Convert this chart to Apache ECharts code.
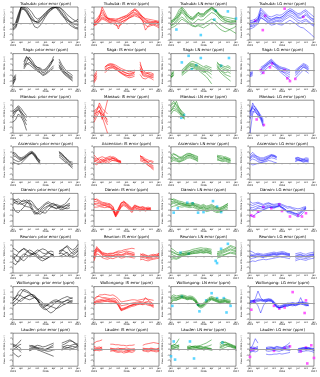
<!DOCTYPE html>
<html><head><meta charset="utf-8">
<script src="https://cdn.jsdelivr.net/npm/echarts@6/dist/echarts.min.js"></script>
<style>html,body{margin:0;padding:0;background:#fff;overflow:hidden}#c{width:320px;height:377px}</style>
</head><body><div id="c"></div>
<script>
const months = [0,1,2,3,4,5,6,7,8,9,10,11,12,13,14,15,16,17,18,19,20,21,22,23,24];
const tickValues = [0,3,6,9,12,15,18,21,24];
const tickLabels = ['jan\n2015','apr','jul','oct','jan\n2016','apr','jul','oct','jan\n2017'];
const sites = ['Tsukuba','Saga','Manaus','Ascension','Darwin','Reunion','Wollongong','Lauder'];
const kinds = ['prior','IS','LN','LG'];
const _ = null;

// ---- Tsukuba ----
const tsukubaPrior = [
[-0.8,-0.3,1.2,3,2.6,2,1.2,0.6,0.3,0.4,0.8,1.3,1.8,2.3,2.8,3,2.8,2.2,1.5,1,0.6,0.3,0.2,0.4,0.8],
[-1,-0.6,0.8,2.8,2.8,2.4,1.5,0.8,0.4,0.2,0.5,1,1.6,2.2,2.7,2.9,3,2.6,2,1.3,0.7,0.2,-0.3,-0.7,-0.8],
[-0.5,0,1.5,3,3,2.7,2,1.2,0.5,0.1,0.3,0.9,1.5,2,2.5,2.8,3,2.9,2.5,1.8,1,0.4,0,-0.2,-0.3],
[-1.2,-0.8,0.5,2.5,2.6,2.2,1.4,0.3,-0.6,-0.8,-0.4,0.4,1.2,1.9,2.4,2.8,3,2.5,1.8,1,0.2,-0.3,-0.6,-0.9,-1],
[-0.3,0.2,1.8,3,3,3,2.6,2,1.2,0.8,1,1.5,2,2.5,2.8,3,3,3,2.7,2.2,1.6,1.2,0.8,0.5,0.3]];
const tsukubaIS = [
[0,0.3,1,2.5,1.5,0.8,0.6,0.5,0.4,0.3,0.6,1,1.2,1.4,1.8,2.5,2,1.5,0.8,0.3,0.2,0.1,0,-0.3,-0.5],
[-0.5,0,0.5,1,0.8,0.6,0.4,0.3,0.2,-1,0.2,0.5,0.8,1.2,1.5,1.8,1.6,1.2,0.5,-1.2,-0.5,0,0.2,0.3,0],
[0.3,0.5,1.2,3,2,1,0.8,0.7,0.5,0.5,0.7,0.9,1.1,1.6,2.2,2.7,2.4,1.8,1.2,0.7,0.5,0.4,0.3,0.2,0.1],
[-0.3,-0.2,0.3,0.8,0.6,0.3,0.1,0,0,0.1,0.3,0.5,0.7,1,1.2,1.4,1.2,1,0.6,0.2,0,-0.2,-0.3,-0.5,-0.8],
[0.1,0.4,0.9,1.6,1.2,0.9,0.7,0.6,0.6,0.8,1,1.2,1.5,1.9,2.3,2.5,2.2,1.7,1.1,0.6,0.3,0.2,0.3,0.4,0.2],
[-0.2,0.1,0.6,1.2,1,0.5,0.2,0,-0.3,-0.5,-0.2,0.2,0.6,1,1.3,1.6,1.5,1,0.4,-0.3,-0.6,-0.4,-0.2,0,-0.3],
[0.5,0.8,1.5,2,1.4,1,0.9,0.9,0.8,0.9,1.1,1.3,1.4,1.6,1.9,2,1.8,1.5,1.2,0.9,0.8,0.7,0.6,0.5,0.4]];
const tsukubaLN = [
[0,0.5,1.2,2,2.8,2,1.2,0.8,0.6,1,1.5,1.2,1.3,1.8,2.2,2.6,2.3,1.8,1.2,0.8,0.5,0.3,0.2,0.2,0.3],
[-0.5,0,0.5,1.2,2,1.5,0.8,0.3,0,0.3,0.8,0.6,0.7,1.2,1.6,2,1.8,1.4,0.8,0.4,0.2,0,-0.2,-0.1,0],
[0.3,0.8,1.5,2.5,3,2.5,1.8,1.3,1.1,1.5,2,1.8,1.8,2.3,2.6,3,2.7,2.2,1.6,1.3,1.2,1.1,1,0.9,0.8],
[-0.3,-0.2,0.2,0.8,1.2,0.8,0.4,0,-0.3,-0.5,-0.2,-0.3,-0.2,0.2,0.5,0.8,0.6,0.2,-0.2,-0.5,-0.8,-1,-1.2,-1.5,-1.8],
[0.5,0.7,1,1.6,2.2,1.8,1.4,1,0.8,1.2,1.8,1.5,1.6,2.2,2.5,2.8,2.5,2,1.5,1,0.6,0.4,0.3,0.4,0.5],
[-0.8,-0.6,-0.3,0.3,0.8,0.5,0.2,-0.2,-0.5,-0.6,-0.4,-0.6,-0.8,-0.5,-0.2,0.2,0,-0.5,-1,-1.3,-1.5,-1.3,-1,-0.8,-0.5],
[0.2,0.4,0.8,1.5,2.5,2.2,1.5,1,0.9,1.4,2,1.6,1.5,2,2.4,2.9,2.6,2,1.4,1.1,0.9,0.7,0.6,0.5,0.4]];
const tsukubaLG = [
[-0.5,-0.3,0,0.5,2.5,2,1.5,1,0.8,1,1.2,1,1.2,1.6,2,2.4,2.2,1.8,1.5,1.6,2,2.2,1.5,1,0.8],
[0,0.2,0.5,1,1.8,1.5,1,0.6,0.5,0.7,0.9,0.8,0.9,1.3,1.7,2,1.8,1.4,1,0.9,1.2,1.5,1,0.6,0.3],
[-1,-0.8,-0.5,0,1,0.8,0.5,0.2,0,0.2,0.4,0.3,0.3,0.7,1,1.3,1,0.6,0.2,0,0.3,0.5,0.2,-0.2,-0.5],
[0.5,0.6,0.8,1.3,2.8,2.3,1.8,1.3,1.2,1.4,1.6,1.5,1.6,2,2.4,2.7,2.5,2.1,1.8,1.9,2.3,2.5,2,1.6,1.2],
[-0.6,-0.5,-0.3,0.2,1.2,0.8,0.4,0,-0.3,-0.2,0,-0.2,-0.3,0,0.3,0.6,0.3,0,-0.4,-0.7,-0.8,-1.2,-1.6,-2,-2.5],
[0.2,0.3,0.4,0.8,2,1.8,1.3,0.9,0.7,0.9,1.1,1.1,1.2,1.6,2.1,2.3,2.1,1.7,1.2,1.1,1.4,1.8,1.3,0.9,0.6],
[-0.3,0,0.3,0.6,1.5,1.2,0.8,0.4,0.2,0.4,0.6,0.5,0.6,1,1.4,1.6,1.4,1,0.6,0.4,0.6,0.8,0.4,0,-0.3]];
const tsukubaLNObs = [[2,-1.1],[11,-2.1],[16,0.7],[16.5,2.3],[21,2.2],[24,0.9]];
const tsukubaLGObs = [[2,0.5],[5.7,1.4],[4.8,-1.2],[13,2.7],[20,1.2]];

// ---- Saga ----
const sagaPrior = [
[-2.4,-1.2,_,_,1,2.3,2,1.2,0.6,0.2,0,-0.5,-0.3,0.3,1,2,_,1.5,0.6,-0.2,-0.8,-1.2,-1.5],
[-1.8,-1,_,_,0.5,1.5,2.4,1.8,1,0.5,0.2,-0.2,0,0.5,1.2,2.5,_,1,0.2,-0.4,-0.6,-1,-1.3],
[-2,-1.5,_,_,0.2,1,1.4,1,0.5,0,-0.3,-0.8,-0.6,-0.2,0.3,0.8,_,0.8,0,-0.6,-1,-1.4,-1.8],
[-2.6,-1.6,_,_,1.5,2.5,1.8,1.4,0.8,0.5,0.4,0,0.2,0.8,1.5,1.8,_,2,1,0.3,-0.3,-0.6,-1],
[-1.5,-0.8,_,_,0.8,1.2,1,0.6,0.2,-0.2,-0.5,-1,-0.8,-0.4,0,0.4,_,0.5,-0.2,-0.8,-1.2,-1.6,-2]];
const sagaIS = [
[-1.5,-0.5,_,_,0.2,0.8,1,1,0.6,0.3,0,-0.3,-0.5,-0.8,-0.6,-0.4,_,1.5,-0.5,-0.8,-0.6,-0.8,-1],
[-2,-1,_,_,-0.2,0.4,0.6,0.8,0.4,0,-0.4,-0.7,-0.9,-1.1,-1,-0.8,_,0.5,-1,-1.2,-1,-1.2,-1.4],
[-1,-0.2,_,_,0.5,1,1.2,1.1,0.9,0.6,0.3,0.1,-0.1,-0.3,-0.2,0,_,-0.2,-0.3,-0.6,-0.4,-0.5,-0.7],
[-2.3,-1.5,_,_,0,0.3,0.5,0.5,0.2,-0.2,-0.6,-0.9,-1.2,-1.4,-1.3,-1.1,_,-0.8,-1.5,-1.6,-1.3,-1.5,-1.8],
[-1.2,-0.8,_,_,0.6,0.9,0.9,0.7,0.5,0.2,-0.1,-0.4,-0.6,-0.6,-0.5,-0.3,_,1,0,-0.4,-0.7,-1,-0.8],
[-1.8,-1.2,_,_,-0.5,0,0.3,0.4,0.1,-0.2,-0.5,-0.8,-1,-1,-0.8,-0.5,_,0.2,-0.8,-1,-1.1,-1.3,-1.2]];
const sagaLN = [
[-1,-0.3,_,_,-0.5,0,0.6,1,1.2,1,0.8,0.5,0.3,0.5,0.3,0,_,1.5,0.8,0.5,0.3,0.5,0.2],
[-1.5,-0.8,_,_,-0.8,-0.3,0.2,0.6,0.8,0.6,0.4,0.1,-0.2,-0.5,-1,-1.5,_,0.8,0.2,-0.2,-0.5,-0.3,-0.6],
[-0.8,-0.5,_,_,0,0.5,1,1.4,1.6,1.4,1.2,0.9,0.6,0.8,0.6,0.4,_,1.2,1,0.8,0.6,0.8,0.5],
[-1.2,-1,_,_,-1,-0.6,-0.2,0.2,0.3,0.2,0,-0.4,-0.8,-1.2,-1.8,-2.5,_,0.3,-0.3,-0.8,-1.2,-1.6,-2],
[-0.6,-0.2,_,_,-0.3,0.2,0.8,1.2,1,0.8,0.6,0.3,0.1,0.2,0,-0.3,_,1,0.5,0.2,0,0.1,-0.2],
[-1.3,-0.6,_,_,-0.6,-0.1,0.4,0.9,0.6,0.4,0.2,-0.1,-0.4,-0.2,-0.4,-0.8,_,0.6,0,-0.4,-0.8,-1,-1.2]];
const sagaLG = [
[-0.8,-0.5,_,_,0,0.5,1,1.5,1.8,1.2,0.8,0.4,0.2,0,-0.3,-0.5,_,-0.5,0,0.5,1,0.8,0.3],
[-1,-0.8,_,_,-0.5,0,0.6,1,1.3,1,0.6,0.2,-0.2,-0.6,-1,-1.3,_,-1,-0.6,0,0.5,0.3,-0.2],
[-0.5,-0.2,_,_,0.5,0.8,1.2,1.6,2,1.5,1,0.7,0.5,0.4,0.2,0,_,0,0.4,0.8,1.2,1,0.6],
[-1.2,-1,_,_,-0.8,-0.4,0.2,0.6,0.9,0.6,0.3,-0.2,-0.6,-1,-1.4,-1.8,_,-1.5,-1,-0.5,0,-0.2,-0.6],
[-0.9,-0.6,_,_,0.2,0.6,0.9,1.2,1.5,1.2,0.9,0.5,0.3,0.2,0,-0.2,_,-0.3,0.2,0.6,0.8,0.6,0.2],
[-0.6,-0.4,_,_,-0.2,0.3,0.8,1.3,1.6,1.1,0.5,0,-0.3,-0.4,-0.6,-0.9,_,-0.7,-0.3,0.2,0.6,0.4,0]];
const sagaLNObs = [[4,1.4],[6.5,2.6],[11,2.2],[21.4,2.2],[7.7,0.2],[9.3,0.9],[18.5,0.8]];
const sagaLGObs = [[4,0],[5,-0.5],[7.5,0.5],[8.3,1.2],[13,0],[14,-1.5],[15,-2],[17,-1.6]];

// ---- Manaus ----
const manausPrior = [[1,1.5,2,1.5,0.8,0.2],[0.5,1.2,1.8,1,0,-0.8],[0,0.8,1.5,0.5,-0.5,-1.5],[-1,-0.5,0.5,0,-1,-2.5],[0.8,1,1.2,0.8,0.3,-0.2]];
const manausIS = [[0,1,2.5,1.5,1,0.5],[1,1.5,2,0.5,-0.5,-1.5],[-0.5,0.5,1.2,-0.5,1,3],[0.5,0.8,1,0,-1.5,-3],[-1,0,0.8,0.5,0,-0.5],[0.8,1.2,1.8,1,0.2,-1]];
const manausLN = [[2,2.5,2,1.2,0.5,0],[1.5,2,1.6,1,0.2,-0.5],[1,1.8,2.8,1.5,0.8,0.2],[0.5,1.2,1,0.6,0,-0.3],[2.2,2.8,2.2,1.6,1,0.5],[1.2,1.5,1.3,0.8,0.4,-0.2]];
const manausLG = [[-3,0.5,1.5,1,0,-1],[0.5,2.5,1.5,0.8,-0.2,-1.5],[1,1.5,1.2,0.5,0,-0.8],[0,1.8,1,0.2,-0.5,-1.8],[0.8,2,1.8,1,0.3,-0.5],[-0.5,1,0.8,0.3,-0.3,-1.2]];
const manausLNObs = [[3.8,-0.2],[4.8,0.3]];
const manausLGObs = [[2.5,-0.5],[5.2,-1.5]];

// ---- Ascension ----
const ascensionPrior = [
[2,1.8,1.2,1,1.2,1.6,2,2.2,1.8,1,0.5,_,_,_,_,_,_,2,1.8,1.2,0.8,0.3,0.2],
[1.4,1.2,0.8,0.6,0.9,1.4,1.8,2,1.6,0.8,0.2,_,_,_,_,_,_,1.8,1.5,1,0.5,0,-0.3],
[0.8,0.5,0.3,0.5,0.8,1.2,1.6,1.8,1.2,0.5,0,_,_,_,_,_,_,1.5,1.2,0.6,0.2,-0.3,-0.6],
[0.2,0,-0.2,0,0.5,1,1.5,2,1.4,0.6,-0.2,_,_,_,_,_,_,1.2,0.8,0.3,0,-0.5,-0.9],
[1.8,1.5,1,0.8,1,1.3,1.7,1.9,1.5,0.9,0.4,_,_,_,_,_,_,2.2,1.6,1.2,0.6,0.2,-0.2]];
const ascensionIS = [
[1.5,1,0.5,0.8,0.5,0.3,0.6,1,0.8,0.4,0.2,_,_,_,_,_,_,1.5,1,0.5,0.2,0.5,0.3],
[0.5,0.2,0,0.3,0.6,0.8,0.7,0.5,0.4,0.3,0.2,_,_,_,_,_,_,1,0.8,0.2,-0.3,-0.8,-1.2],
[1,0.8,1,1.2,1,0.9,1,1.2,1,0.6,0.3,_,_,_,_,_,_,1.2,1.2,0.8,0.6,0.3,0],
[0,-0.3,0.2,0.5,0.2,0,0.3,0.6,0.5,0.2,-0.1,_,_,_,_,_,_,0.5,0.3,0,-0.4,-0.6,-1],
[0.8,0.5,0.3,0,0.4,0.6,0.8,0.9,0.7,0.5,0.4,_,_,_,_,_,_,0.8,0.5,0.6,0.2,-0.2,-0.5],
[0.3,0.6,0.8,0.5,0.8,1.1,1.3,0.9,0.6,0.4,0.1,_,_,_,_,_,_,1.3,0.9,0.4,0,-0.4,-0.8]];
const ascensionLN = [
[1.5,1.8,1.4,1,1.2,1.5,1.8,1.8,1.5,1.2,1,_,_,_,_,_,_,1.5,1.2,1,1.2,1,0.8],
[1,1.2,0.8,0.5,0.7,1,1.3,1.5,1.3,1,0.8,_,_,_,_,_,_,1.2,1,0.8,0.9,0.7,0.5],
[0.5,0.8,0.6,0.3,0.5,0.8,1.1,1.2,1,0.7,0.5,_,_,_,_,_,_,0.8,0.6,0.5,0.6,0.4,0.2],
[1.2,1.6,1.5,1.2,1,1.4,1.6,1.7,1.6,1.4,1.2,_,_,_,_,_,_,1.2,1.4,1.3,1,0.8,0.6],
[0.8,1,0.9,0.8,0.9,1.1,1.4,1.4,1.2,0.9,0.7,_,_,_,_,_,_,1,0.9,0.7,0.8,0.6,0.4],
[0.3,0.5,0.4,0.2,0.4,0.6,0.9,1,0.8,0.6,0.3,_,_,_,_,_,_,0.6,0.5,0.3,0.4,0.2,0]];
const ascensionLG = [
[1.5,2,1.5,1,0.8,0.8,1,1.2,1.5,1.5,1.2,_,_,_,_,_,_,0.8,1,0.8,0.6,0.8,0.7],
[0.8,1.2,1,0.6,0.5,0.6,0.8,1.1,1.4,1.3,1,_,_,_,_,_,_,0.6,0.8,0.6,0.5,0.6,0.5],
[0,-0.3,-0.2,0,0.1,0.2,0.3,0.5,0.4,0.2,0.1,_,_,_,_,_,_,0.3,0.5,0.4,0.2,0.3,0.2],
[1,1.4,1.2,0.8,0.6,0.5,0.7,1,1.3,1.2,1,_,_,_,_,_,_,1,1.1,0.9,0.8,1,0.9],
[0.5,0.8,0.6,0.3,0.2,0.3,0.5,0.8,1,0.9,0.7,_,_,_,_,_,_,0.4,0.6,0.5,0.3,0.4,0.3],
[1.2,1.6,1.4,1.2,1,1,1.2,1.4,1.6,1.4,1.2,_,_,_,_,_,_,0.9,0.7,0.5,0.7,0.5,0.6]];

// ---- Darwin ----
const darwinPrior = [
[2,1.8,2,1.6,1.5,1.8,1.6,0.5,-0.5,-0.8,-0.3,0.2,0.5,0.8,0.6,0.4,0.3,0.6,0.8,1,1.5,2.2],
[1.5,1.2,1,1.5,1.8,1.5,1,0,-0.8,-0.5,0,0.5,1,1.2,0.8,0.5,0.2,0.4,0.6,0.7,0.8,0.9],
[0.5,-0.3,-0.5,0,0.5,1.2,1.8,1.5,0.8,0.2,-0.2,-0.5,-0.6,0,0.5,0.8,1,0.8,0.5,0.3,0.2,0.4],
[1,1.5,1.6,1.2,0.8,0.6,0.5,0.2,-0.3,-0.6,-0.8,-0.4,0.2,0.6,1,1.2,0.8,0.2,0,0.2,0.5,0.8],
[1.8,1.6,1.2,1,1.2,1.4,1.2,1,0.5,0,0.3,0.8,1.2,1.5,1.2,1,0.8,0.5,0.3,0.6,1,1.2]];
const darwinIS = [
[2,1.8,1.5,1.2,1.2,1,1,0.5,-1,0,1,1.5,1,0.5,0,0.8,0.5,0.3,0.5,0.2,0.3,0.2],
[1.5,1.5,1.3,1,1,0.9,0.8,0.2,-1.2,-0.3,0.8,1.2,0.8,0.2,-0.3,0.5,0.3,0.1,0.2,0,0.1,0],
[1,1.2,1.1,0.9,0.8,0.7,0.6,0,-0.8,0.2,1.2,1.6,1.2,0.8,0.3,0.9,0.7,0.5,0.6,0.4,0.5,0.3],
[0.5,0.5,0.6,0.5,0.4,0.5,0.4,-0.2,-1.3,-0.5,0.5,0.8,0.5,0,-0.5,0.2,0,-0.2,0,-0.2,0,-0.1],
[1.8,2,1.7,1.4,1.3,1.2,1.1,0.6,-0.6,0.3,1.3,1.4,1.1,0.6,0.2,0.7,0.6,0.4,0.3,0.3,0.2,0.4],
[1.2,0.9,0.8,0.7,0.8,0.6,0.5,0.1,-1,-0.2,0.6,1,0.7,0.3,-0.1,0.4,0.2,0,0.1,-0.1,0.2,0.1]];
const darwinLN = [
[2,1.8,1.6,1.4,1.2,1.1,1,1,1.2,0.9,0.8,0.6,0.8,0.5,0.6,0.8,0.5,0.3,0.2,0.5,0.8,1.2],
[1.5,1.6,1.4,1.2,1.2,1,0.9,0.8,0.9,0.7,0.5,0.3,0.5,0.2,0.3,0.4,0.2,0,0,0.2,0.5,0.8],
[1,1.2,1,1,0.8,0.8,0.7,0.6,0.8,0.5,0.3,0.2,0.3,0,0.1,0.2,0,-0.3,-0.2,0,0.3,0.5],
[0.5,0.7,0.8,0.6,0.5,0.6,0.5,0.4,0.5,0.3,0.1,-0.1,0.1,-0.3,-0.2,0,-0.3,-0.5,-0.4,-0.2,0,0.2],
[1.8,2,1.8,1.6,1.5,1.3,1.2,1.2,1.3,1.1,1,0.8,1,0.7,0.8,1,0.7,0.5,0.4,0.6,0.9,1.1],
[1.2,1.4,1.3,1.1,1,0.9,0.8,0.8,1,0.8,0.6,0.4,0.6,0.3,0.4,0.6,0.4,0.2,0.1,0.3,0.6,0.9]];
const darwinLG = [
[1,0.8,1,1.2,1,0.8,1,1.2,1,0.8,0.9,1,0.8,0.6,0.3,0.4,0.2,0,-0.2,0,0.3,0.5],
[0.5,0.4,0.6,0.8,0.6,0.5,0.7,0.9,0.7,0.6,0.7,0.8,0.5,0.2,-0.2,-0.2,-0.4,-0.6,-0.8,-0.5,0,0.3],
[0,-0.2,0,0.3,0.2,0.1,0.3,0.5,0.4,0.3,0.5,0.6,0.3,0,-0.5,-0.6,-0.8,-1,-1.3,-1,-0.5,0.2],
[-1,-1.2,-0.8,-0.5,-0.3,0,0.2,0.4,0.5,0.4,0.6,0.8,0.5,0.2,-0.3,-0.4,-0.6,-0.8,-1,-0.6,-0.2,0.4],
[1.5,1.2,1.3,1.4,1.2,1,1.2,1.3,1.1,1,1.1,1.2,1,0.8,0.6,0.6,0.4,0.3,0.2,0.3,0.5,0.6],
[0.3,0,0.2,0.5,0.6,0.4,0.5,0.7,0.6,0.5,0.6,0.7,0.4,0,-0.2,-0.3,-0.5,-0.7,-0.6,-0.3,0.1,0.4]];
const darwinLNObs = [[1,-0.5],[2.5,0.3],[6,1.3],[8,1.2],[10,-0.5],[12,-0.4],[15.5,1.6],[17,0.6],[18.5,-0.4]];
const darwinLGObs = [[0.5,-1],[1.5,-1.2],[3,-0.3],[5,0.5],[8,0.3],[11,1],[12,-0.2],[15,-1.2],[18,-1],[19.5,-1.2],[21,-0.6]];

// ---- Reunion ----
const reunionPrior = [
[1.5,1.2,0.8,1,1.5,1.2,0.8,0.5,0.8,1.2,1,0.6,0.5,0.8,1,0.8,_,0.5,1,1.5,2,1.5,1.2,1.5,2.2],
[-1.2,-1.5,-0.8,0,0.5,0.3,0,0.3,0.6,0.4,0,-0.3,-0.5,-0.2,0,0.2,_,0.8,1.2,1.6,1.8,1,0.5,0.8,1.2],
[0.5,0.3,0,-0.5,-0.8,-0.3,0.2,0.5,0.2,-0.2,-0.6,-0.8,-0.5,-0.2,0.2,0.5,_,0,0.2,0.5,0.8,0.2,-0.2,0,0.5],
[-0.5,0,0.6,1.2,1.4,1,0.6,0.4,0.5,0.8,1.2,1.4,1.2,0.8,0.4,0.3,_,1,1.2,1,0.5,0,0.2,0.5,1],
[0.2,-0.8,-1,-0.5,0,0.8,1.2,1,0.5,0,-0.3,0,0.3,0.6,0.5,0.2,_,0.5,0.6,0.3,0,0.4,0.8,1.2,1.5]];
const reunionIS = [
[0,1.5,1.2,0.5,0.3,0.2,0.3,0.2,0.4,0.5,0.3,0.5,0.8,0.6,0.5,0.4,_,0,0.2,0,-0.2,0,0.1,0,0.3],
[-0.5,1,0.8,0.2,0,-0.2,0,0,0.1,0.2,0,0.2,0.4,0.3,0.2,0.1,_,-0.3,-0.2,-0.3,-0.5,-0.4,-0.3,-0.2,0],
[0.5,1.8,1.2,0.8,0.6,0.5,0.6,0.6,0.8,1,1,1.2,1.3,1.4,1.5,1.4,_,0.2,0.5,0.3,0.1,0.3,0.4,0.2,0.6],
[-0.8,0.5,0.3,-0.2,-0.4,-0.5,-0.3,-0.4,-0.2,0,-0.3,-0.2,0,-0.1,-0.2,-0.3,_,-0.6,-0.5,-0.7,-0.8,-0.6,-0.5,-0.4,-0.3],
[0.2,1.2,1,0.4,0.2,0.1,0.2,0.1,0.3,0.4,0.2,0.4,0.6,0.5,0.4,0.3,_,-0.1,0,-0.1,-0.3,-0.2,0,0.1,0.2],
[1,1.4,1,0.6,0.5,0.4,0.5,0.5,0.7,0.8,0.7,0.9,1,0.9,0.8,0.6,_,0.5,0.3,0.2,0,0.1,0.2,0.4,0.5]];
const reunionLN = [
[1,0.8,0.5,0.3,0.5,0.6,0.8,0.8,1,1.1,1.2,1.3,1.2,1.3,1.2,1,_,0.5,0.8,1,1.2,1.5,1.8,1.5,1.4],
[0.5,0.2,0,0.1,0.3,0.4,0.5,0.6,0.7,0.8,0.9,1,0.9,1,0.9,0.7,_,0.2,0.4,0.6,0.8,1,1.2,1,0.9],
[-0.5,-0.4,-0.5,-0.3,0,0.2,0.3,0.4,0.5,0.6,0.6,0.7,0.6,0.7,0.6,0.4,_,0,0.2,0.3,0.4,0.6,0.8,0.7,0.6],
[1.5,1.2,0.8,0.6,0.8,0.9,1,1.1,1.3,1.4,1.5,1.6,1.5,1.5,1.4,1.3,_,0.8,1,1.2,1.4,1.7,2,1.8,1.6],
[0,-0.2,-0.3,-0.1,0.2,0.3,0.4,0.5,0.6,0.6,0.7,0.8,0.7,0.8,0.7,0.5,_,-0.3,-0.1,0.1,0.3,0.5,0.6,0.5,0.4],
[0.8,0.6,0.4,0.3,0.5,0.6,0.6,0.7,0.9,1,1,1.1,1,1.1,1,0.8,_,0.4,0.6,0.8,1,1.2,1.4,1.2,1.1]];
const reunionLG = [
[1,0.8,0.5,0.6,0.5,0.4,0.5,0.6,0.7,0.8,0.7,0.8,0.9,0.8,0.6,0.5,_,0.5,0.6,0.7,0.5,0.4,0.6,0.7,0.8],
[0.5,0.3,0.2,0.3,0.2,0.1,0.2,0.3,0.4,0.5,0.4,0.5,0.6,0.5,0.4,0.3,_,0.2,0.3,0.4,0.2,0.1,0.3,0.4,0.5],
[-0.5,-0.3,-0.2,0,-0.1,-0.2,0,0.1,0.2,0.3,0.2,0.3,0.4,0.3,0.2,0.1,_,-0.2,0,0.1,0,-0.1,0,0.2,0.3],
[0,0.2,0.3,0.4,0.3,0.2,0.3,0.4,0.5,0.6,0.5,0.6,0.7,0.6,0.5,0.4,_,0,0.2,0.3,0.1,0,0.2,0.3,0.4],
[-1,-0.8,-0.9,-0.7,-0.6,-0.5,-0.6,-0.5,-0.4,-0.3,-0.2,-0.1,-0.1,-0.2,-0.3,-0.4,_,-0.8,-0.6,-0.5,-0.6,-0.7,-0.5,-0.4,-0.3],
[0.2,0.1,-0.1,0.1,0,-0.1,0.1,0.2,0.3,0.4,0.3,0.4,0.5,0.4,0.3,0.2,_,-0.5,-0.3,-0.2,-0.3,-0.4,-0.2,0,0.2]];
const reunionLNObs = [[3.5,0.7],[6.5,0.5],[16.5,-0.8],[17,-1.2],[18.5,1.4],[21,2.3]];
const reunionLGObs = [];

// ---- Wollongong ----
const wollongongPrior = [
[0.5,1,2,2.5,2.2,2,1.8,1.5,1.2,0.5,-0.5,-1,-1.2,-1,-0.6,-0.2,0.2,0.5,0.8,1,1.2,1,0.8],
[1,0.8,0.5,0.3,0.8,1.2,1.5,1.6,1.4,0.8,0,-0.6,-1,-1.5,-1.8,-1.5,-1,-0.5,0,0.3,0.6,0.8,1],
[0.5,1.2,1.5,1.3,1,0.8,0.6,0.8,1,0.6,-0.2,-0.8,-0.6,-0.3,0,0.2,0.3,0.2,0,-0.2,0,0.2,0],
[-0.5,-0.2,0.3,0.8,1,1.2,1.4,1.2,1,0.8,0.5,0,-0.3,-0.5,-0.6,-0.8,-1,-0.8,-0.5,-0.2,0,0.3,0.5],
[0,0.5,1,1.8,2.5,2.3,2,1.5,1,0.5,0,-0.3,-0.5,-0.2,0.2,0.5,0.6,0.4,0.2,0.3,0.5,0.4,0.3]];
const wollongongIS = [
[0,0.2,0.3,0.4,0.5,0.6,0.5,0.4,0.3,-0.3,-1.2,-1,-0.8,-0.5,-0.3,-0.2,0,0,-0.1,0,-0.2,-0.4,-0.6],
[0.5,1,1.5,1.5,1.6,1.5,1.4,1.5,1.2,0.8,0.2,0.3,0.4,0.5,0.6,0.6,0.5,0.6,0.7,0.8,0.7,0.6,0.5],
[0.2,0.5,0.6,0.7,0.8,0.7,0.6,0.6,0.5,0,-1,-0.9,-0.7,-0.5,-0.4,-0.2,-0.1,0.1,0,0.2,0.3,0,-0.4],
[-0.3,0,0.1,0.2,0.3,0.3,0.2,0.2,0.1,-0.5,-1.4,-1.2,-1,-0.8,-0.6,-0.5,-0.3,-0.2,-0.3,-0.2,-0.4,-0.5,-0.8],
[0.8,1.2,1.2,1,1,0.9,0.8,0.9,0.8,0.3,-0.5,-0.4,-0.3,-0.1,0,0.1,0.2,0.3,0.2,1,0.5,0.2,-0.2],
[0.1,0.3,0.4,0.5,0.4,0.4,0.3,0.3,0.2,-0.4,-1.3,-1.1,-0.9,-0.6,-0.4,-0.3,-0.2,-0.1,-0.2,0.1,0,-0.3,-0.5]];
const wollongongLN = [
[1,1.2,1,1.2,1.3,1.2,1,1.1,1,0.6,-0.2,-0.4,-0.2,0.3,0.8,1,0.8,0.6,0.4,0.5,0.6,0.4,0.3],
[0.5,0.8,0.8,1,1.1,1,0.8,0.9,0.8,0.4,-0.5,-0.7,-0.5,0,0.5,0.8,0.6,0.4,0.2,0.3,0.4,0.2,0],
[0,0.5,0.6,0.7,0.9,0.8,0.6,0.7,0.6,0.2,-0.6,-0.9,-0.7,-0.2,0.3,0.6,0.4,0.2,0,0.1,0.2,0,-0.2],
[1.2,1.5,1.3,1.4,1.5,1.4,1.2,1.3,1.2,0.8,0,-0.2,0,0.5,1,1.2,1,0.8,0.6,0.7,0.8,0.6,0.5],
[0.8,1,0.9,1.1,1.2,1.1,0.9,1,0.9,0.5,-0.3,-0.5,-0.3,0.2,0.7,0.9,0.7,0.5,0.3,0.4,0.5,0.3,0.2],
[0.3,0.6,0.5,0.8,1,0.9,0.7,0.8,0.7,0.3,-0.4,-0.6,-0.4,0.1,0.6,0.7,0.5,0.3,0.1,0.2,0.3,0.1,-0.1]];
const wollongongLG = [
[0,0.3,0.8,2.2,1,0.5,0.5,0.6,0.5,0,-0.6,-0.8,-0.6,-0.4,-0.3,-0.2,-0.3,-0.2,-0.1,0,0,-0.2,-0.3],
[0.5,0.4,0.2,-0.5,-1.8,-0.5,0.3,0.4,0.4,-0.2,-0.8,-0.9,-0.7,-0.5,-0.4,-0.3,-0.2,-0.3,-0.2,1,-0.1,-0.3,-0.4],
[0.2,0.4,0.5,0.6,0.6,0.5,0.6,0.7,0.6,0.2,-0.5,-0.7,-0.5,-0.3,-0.2,-0.1,0,-0.1,0,0.1,0.1,0,-0.1],
[-0.2,0,0.2,0.3,0.4,0.3,0.3,0.4,0.3,-0.1,-0.7,-0.8,-0.8,-0.6,-0.5,-0.4,-0.5,-0.4,-0.3,-0.2,-0.2,-0.4,-0.5],
[0.3,0.5,0.6,0.8,0.7,0.6,0.7,0.8,0.7,0.3,-0.3,-0.5,-0.4,-0.2,0,0,0.1,0,0.1,0.2,0.2,0.1,0],
[0.1,0.2,0.4,0.5,0.5,0.4,0.4,0.5,0.5,0.1,-0.6,-0.9,-0.8,-0.5,-0.6,-0.4,-0.3,-0.5,-0.3,-0.1,-0.3,-0.5,-0.4]];
const wollongongLNObs = [[0.5,-0.5],[4,1.2],[10,-0.3],[10.5,-1.5],[13,0.5],[15,1.8],[17,0.9],[19.5,0.9],[20.5,-1.7],[22,-0.5]];
const wollongongLGObs = [[0.5,-1.2],[1.5,0.3],[9,-0.5],[11,-1],[13,-0.8],[16,2],[20.5,-1.8],[21,0.5]];

// ---- Lauder ----
const lauderPrior = [
[0.5,0.8,1.2,1.8,_,_,0.2,0.4,0.6,0.8,0.7,0.5,0.6,0.8,1,1.2,_,_,0.8,1,1.3,1.6,1.5,1.2,1],
[-0.5,-1,-1.3,-1,_,_,-0.2,0,0.2,0,-0.2,-0.4,-0.6,-0.8,-1,-1.2,_,_,0,0.2,0.3,0.5,0.6,0.5,0.7],
[0.8,0.5,0,-0.5,_,_,0.5,0.8,0.6,0.4,0.3,0.2,0,0.3,0.6,0.9,_,_,0.2,0.5,0.4,0.3,0.2,0.4,0.3],
[0,0.3,0.8,1,_,_,0,0.2,0.4,0.3,0.1,0,-0.2,-0.3,-0.2,0,_,_,0.5,0.6,0.8,0.7,0.9,1,0.8],
[1,0.8,0.5,0.2,_,_,0.8,0.6,0.4,0.2,0,-0.1,0.1,0.2,0.4,0.5,_,_,1.2,1.4,1.6,1.8,1.5,1.1,0.6]];
const lauderIS = [
[1.2,1.5,1.6,1.8,_,_,1,1,0.9,0.9,0.8,0.8,0.7,0.8,0.8,0.9,_,_,0.8,1,1.1,1.2,1.3,1.2,1.1],
[0,0.1,0,0.2,_,_,0,-0.1,-0.2,-0.3,-0.2,-0.3,-0.4,-0.3,-0.2,-0.1,_,_,0,-0.1,-0.2,0,-0.1,-0.2,-0.1],
[0.3,0.2,0.3,0.5,_,_,0.2,0.1,0,0.1,0.2,0.1,0,-0.1,0,0.1,_,_,0.2,0.1,0,0.2,0.1,0,0.2],
[-0.2,-0.1,-0.2,0,_,_,-0.3,-0.2,-0.4,-0.5,-0.4,-0.6,-0.5,-0.4,-0.5,-0.3,_,_,-0.2,-0.3,-0.4,-0.2,-0.3,-0.4,-0.3],
[0.1,0,0.2,0.1,_,_,0.1,0,-0.1,0,0.1,0,-0.2,-0.1,0.1,0,_,_,-0.1,0.1,0.2,-0.1,0,0.1,0],
[0.6,0.4,0.5,0.3,_,_,0.3,0.2,0.2,0.3,0.1,0.2,0.3,0.2,0.1,0.2,_,_,0.3,0.2,0.1,0.3,0.2,0.1,0.3]];
const lauderLN = [
[0.5,0.8,1.2,2,_,_,0.5,0.4,0.6,0.5,0.7,0.8,1,1.2,1.5,1.8,_,_,1.2,1.5,1.3,1.1,0.9,0.7,0.5],
[0.2,0.3,0.5,0.6,_,_,0.2,0.3,0.2,0.3,0.4,0.3,0.2,0.3,0.2,0.1,_,_,0.3,0.5,0.8,0.7,0.6,0.4,0.3],
[0.8,0.6,0.7,0.9,_,_,0.4,0.5,0.6,0.7,0.6,0.5,0.4,0.3,0.2,0.1,_,_,0,0.2,0.4,0.6,0.5,0.3,0.2],
[0,0.2,0.1,0.3,_,_,0,0.1,0,0.1,0.2,0.1,0,0.1,0,-0.1,_,_,0.6,0.9,1,0.9,0.7,0.5,0.4],
[0.4,0.5,0.4,0.5,_,_,0.3,0.2,0.4,0.5,0.3,0.2,0.3,0.4,0.3,0.2,_,_,0.4,0.7,0.9,1,0.8,0.6,0.4],
[0.6,1,0.8,0.7,_,_,0.6,0.7,0.5,0.4,0.5,0.6,0.5,0.6,0.7,0.9,_,_,0.9,1.2,1.4,1.2,1,0.8,0.6]];
const lauderLG = [
[0.2,0.8,2,1.2,_,_,0.3,0.2,0.4,0.3,0.5,0.4,0.3,0.6,0.9,1.3,_,_,0,0.2,0.3,0.2,0.3,0.1,0],
[-0.3,-0.2,0,0.2,_,_,0.1,0,0.1,0.2,0.1,0,0.2,0.3,0.2,0.1,_,_,-0.3,-0.1,0,0.1,0.2,0.1,0],
[0,0.3,0.2,0.4,_,_,-0.8,-0.9,-0.9,-0.8,-0.8,-0.7,-0.8,-0.7,-0.6,-0.5,_,_,-0.5,-0.4,-0.3,-0.2,-0.2,-0.3,-0.5],
[0.5,0.2,0.3,0.1,_,_,0.4,0.5,0.5,0.4,0.6,0.5,0.4,0.5,0.6,0.7,_,_,0.2,0.3,0.4,0.3,0.4,0.3,0.2],
[-0.5,-0.3,-0.4,-0.2,_,_,-0.2,-0.3,-0.2,-0.1,-0.2,-0.3,-0.1,0,-0.1,-0.2,_,_,-0.1,0,0.2,0.3,0.1,0,-0.2],
[0.3,0.5,0.4,0.6,_,_,0.2,0.3,0.3,0.2,0.3,0.2,0.1,0.2,0.4,0.5,_,_,0.1,0.2,0.3,0.4,0.3,0.2,0.1]];
const lauderLNObs = [[0,-1.2],[1,1.5],[1.5,-1.8],[7,1.5],[8.5,-1.6],[19,1.3]];
const lauderLGObs = [[0,-1.3],[0.5,0],[1.5,0.1],[9,-0.2],[13,0.3],[15,0.6],[19,-0.3],[21,0.4],[21.5,-2.5],[23,0.8],[24,-1.5]];

// lookup tables built from the named arrays
const lines = {
 Tsukuba:[tsukubaPrior,tsukubaIS,tsukubaLN,tsukubaLG],
 Saga:[sagaPrior,sagaIS,sagaLN,sagaLG],
 Manaus:[manausPrior,manausIS,manausLN,manausLG],
 Ascension:[ascensionPrior,ascensionIS,ascensionLN,ascensionLG],
 Darwin:[darwinPrior,darwinIS,darwinLN,darwinLG],
 Reunion:[reunionPrior,reunionIS,reunionLN,reunionLG],
 Wollongong:[wollongongPrior,wollongongIS,wollongongLN,wollongongLG],
 Lauder:[lauderPrior,lauderIS,lauderLN,lauderLG]};
const obs = {
 Tsukuba:[tsukubaLNObs,tsukubaLGObs], Saga:[sagaLNObs,sagaLGObs], Manaus:[manausLNObs,manausLGObs],
 Ascension:[[],[]], Darwin:[darwinLNObs,darwinLGObs], Reunion:[reunionLNObs,reunionLGObs],
 Wollongong:[wollongongLNObs,wollongongLGObs], Lauder:[lauderLNObs,lauderLGObs]};

const lineColors = ['rgba(0,0,0,0.8)','rgba(255,0,0,0.8)','rgba(0,128,0,0.75)','rgba(0,0,255,0.65)'];
const obsColors = ['#33ccff','#ff33ff'];
const colLeft = [13,94,171,250], colW = 65, rowTop0 = 7, rowStep = 46.6, rowH = 33;
const FONT = 'DejaVu Sans';

const grid=[], xAxis=[], yAxis=[], series=[], title=[];
let gi = 0;
sites.forEach((site, r) => {
  kinds.forEach((kind, c) => {
    const top = rowTop0 + r*rowStep;
    grid.push({left: colLeft[c], top: top, width: colW, height: rowH, show: true, borderColor: '#222', borderWidth: 0.5, backgroundColor: 'transparent'});
    title.push({text: site + ': ' + kind + ' error (ppm)', left: colLeft[c] + colW/2, top: top - 5.2, textAlign: 'center', padding: 0,
      textStyle: {fontSize: 3.9, fontWeight: 'normal', color: '#000', fontFamily: FONT}});
    xAxis.push({gridIndex: gi, type: 'value', min: 0, max: 24, interval: 3,
      axisLine: {show: false}, splitLine: {show: false},
      axisTick: {show: true, length: 1, lineStyle: {color: '#000', width: 0.4}},
      axisLabel: {fontSize: 2.4, margin: 1.2, color: '#000', fontFamily: FONT, lineHeight: 2.6,
        formatter: v => { const k = tickValues.indexOf(v); return k >= 0 ? tickLabels[k] : ''; }}});
    yAxis.push({gridIndex: gi, type: 'value', min: -3, max: 3, interval: 1,
      axisLine: {show: false}, splitLine: {show: false},
      axisTick: {show: true, length: 1, lineStyle: {color: '#000', width: 0.4}},
      axisLabel: {fontSize: 2.4, margin: 1.2, color: '#000', fontFamily: FONT},
      name: 'Model XCO\u2082 - TCCON (ppm)', nameLocation: 'middle', nameGap: 5.5, nameRotate: 90,
      nameTextStyle: {fontSize: 2.1, color: '#000', fontFamily: FONT}});
    series.push({type: 'line', xAxisIndex: gi, yAxisIndex: gi, data: [], silent: true,
      markLine: {symbol: 'none', silent: true, label: {show: false}, lineStyle: {color: '#999', width: 0.9, type: 'solid'}, data: [{yAxis: 0}]}});
    lines[site][c].forEach(vals => {
      series.push({type: 'line', xAxisIndex: gi, yAxisIndex: gi, showSymbol: false, silent: true, connectNulls: false,
        lineStyle: {color: lineColors[c], width: 0.65}, data: vals.map((v, i) => [months[i], v])});
    });
    if (c >= 2) {
      const o = obs[site][c-2];
      if (o.length) series.push({type: 'scatter', xAxisIndex: gi, yAxisIndex: gi, symbol: 'rect', symbolSize: 2.6, silent: true,
        itemStyle: {color: obsColors[c-2]}, data: o});
    }
    gi++;
  });
});

const chart = echarts.init(document.getElementById('c'), null, {renderer: 'canvas'});
chart.setOption({animation: false, backgroundColor: '#fff', title, grid, xAxis, yAxis, series});
</script></body></html>
